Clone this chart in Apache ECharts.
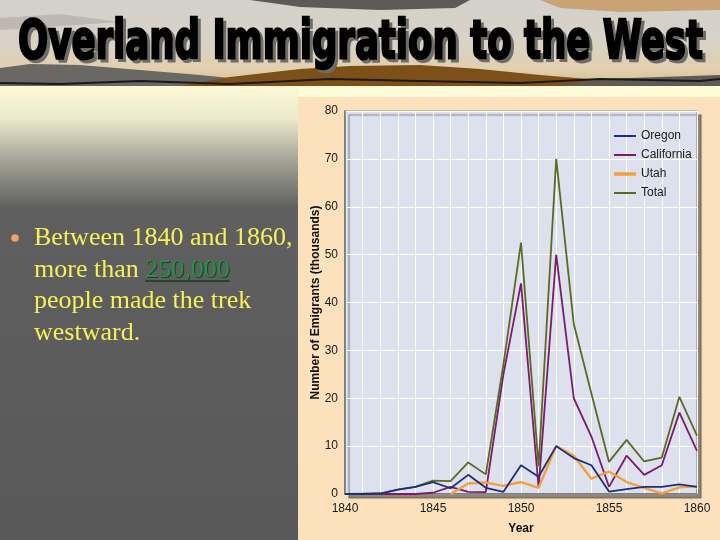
<!DOCTYPE html>
<html>
<head>
<meta charset="utf-8">
<script src="https://cdn.jsdelivr.net/npm/echarts@6/dist/echarts.min.js"></script>
<style>
html,body{margin:0;padding:0;background:#595959;}
#chart{width:720px;height:540px;}
</style>
</head>
<body>
<div id="chart"></div>
<script>
// ---- data ----
const years = [1840,1841,1842,1843,1844,1845,1846,1847,1848,1849,1850,1851,1852,1853,1854,1855,1856,1857,1858,1859,1860];
const oregon = [0,0,0.1,0.9,1.5,2.5,1.2,4.0,1.3,0.45,6.0,3.6,10.0,7.5,6.0,0.5,1.0,1.5,1.5,2.0,1.5];
const california = [0,0,0,0,0,0.26,1.5,0.45,0.4,25,44,1.3,50,20,12,1.5,8,4,6,17,9];
const utah = [null,null,null,null,null,null,0,2.2,2.4,1.7,2.5,1.3,10,8,3.2,4.7,2.5,1.3,0.15,1.4,1.6];
const total = [0,0.06,0.1,0.9,1.5,2.8,2.7,6.6,4.1,27,52.5,5.8,70,35.5,21,6.7,11.3,6.8,7.6,20.3,12.2];
const seriesNames = ['Oregon','California','Utah','Total'];
const yTicks = [0,10,20,30,40,50,60,70,80];
const xLabelYears = [1840,1845,1850,1855,1860];

const titleText = 'Overland Immigration to the West';
const bulletLines = ['Between 1840 and 1860,', 'more than ', '250,000', 'people made the trek', 'westward.'];

// ---- helpers ----
function pairs(vals){ return years.map((y,i)=>[y, vals[i]]); }
const mctx = document.createElement('canvas').getContext('2d');
function measure(font, txt){ mctx.font = font; return mctx.measureText(txt).width; }

const titleFont = 'bold 54px "DejaVu Sans"';
const titleScale = 685 / measure(titleFont, titleText);
const bodyFont = '26px "Liberation Serif"';
const lineStartX = 34;
const moreW = measure(bodyFont, bulletLines[1]);
const numW = measure(bodyFont, bulletLines[2]);

const chart = echarts.init(document.getElementById('chart'), null, {renderer:'canvas'});

const graphic = [
  // header background
  {type:'rect', z:-20, shape:{x:0,y:0,width:720,height:86},
   style:{fill:new echarts.graphic.LinearGradient(0,0,0,1,[
     {offset:0,color:'#d3d1cc'},{offset:0.5,color:'#d8d2c6'},{offset:0.8,color:'#e2cfae'},{offset:1,color:'#d8bf93'}])}},
  {type:'polygon', z:-19, shape:{points:[[250,0],[470,0],[455,8],[380,10],[300,7]]}, style:{fill:'#5c5a57'}},
  {type:'polygon', z:-19, shape:{points:[[540,0],[720,0],[720,10],[620,12],[560,8]]}, style:{fill:'#c9a373'}},
  {type:'polygon', z:-19, shape:{points:[[0,18],[60,14],[120,22],[60,26],[0,30]]}, style:{fill:'#bdb9b2'}},
  {type:'polygon', z:-18, shape:{points:[[0,86],[0,68],[30,64],[80,65],[140,70],[200,75],[250,80],[260,86]]}, style:{fill:'#6a6864'}},
  {type:'polygon', z:-18, shape:{points:[[180,86],[230,77],[300,69],[350,66],[420,65],[480,69],[540,75],[600,80],[640,86]]}, style:{fill:'#7d5019'}},
  {type:'polygon', z:-18, shape:{points:[[560,86],[600,79],[660,77],[720,75],[720,86]]}, style:{fill:'#5f5b55'}},
  {type:'polyline', z:-17, shape:{points:[[0,83],[60,84],[140,81],[230,84],[330,79],[420,81],[520,83],[600,79],[700,81],[720,79]]}, style:{stroke:'#1a1a1a', lineWidth:2, fill:null}},
  // pale strip below header
  {type:'rect', z:-20, shape:{x:0,y:86,width:720,height:14}, style:{fill:'#fdfbd8'}},
  // left panel gradient
  {type:'rect', z:-20, shape:{x:0,y:86,width:299,height:454},
   style:{fill:new echarts.graphic.LinearGradient(0,0,0,1,[
     {offset:0,color:'#fcf9d4'},{offset:0.07,color:'#eceacd'},{offset:0.17,color:'#a09f92'},{offset:0.27,color:'#5f5f5f'},{offset:1,color:'#595959'}])}},
  // peach chart panel
  {type:'rect', z:-20, shape:{x:298,y:97,width:422,height:443}, style:{fill:'#fce1bc'}},
  // title shadow + title
  {type:'text', z:5, x:21, y:20, scaleX:titleScale,
   style:{text:titleText, font:titleFont, fill:'#6e6c68', stroke:'#6e6c68', lineWidth:2.5, verticalAlign:'top', align:'left'}},
  {type:'text', z:6, x:18, y:17, scaleX:titleScale,
   style:{text:titleText, font:titleFont, fill:'#000', stroke:'#000', lineWidth:2.5, verticalAlign:'top', align:'left'}},
  // bullet
  {type:'circle', z:5, shape:{cx:15, cy:238, r:3.8}, style:{fill:'#f0a264'}},
  {type:'text', z:5, x:lineStartX, y:238, style:{text:bulletLines[0], font:bodyFont, fill:'#f6f05a', verticalAlign:'middle', align:'left'}},
  {type:'text', z:5, x:lineStartX, y:270, style:{text:bulletLines[1], font:bodyFont, fill:'#f6f05a', verticalAlign:'middle', align:'left'}},
  {type:'text', z:5, x:lineStartX+moreW+1, y:271, style:{text:bulletLines[2], font:bodyFont, fill:'#1d3d22', verticalAlign:'middle', align:'left'}},
  {type:'text', z:6, x:lineStartX+moreW, y:270, style:{text:bulletLines[2], font:bodyFont, fill:'#27914a', verticalAlign:'middle', align:'left'}},
  {type:'line', z:5, shape:{x1:lineStartX+moreW, y1:281, x2:lineStartX+moreW+numW, y2:281}, style:{stroke:'#1a3a1e', lineWidth:1.5}},
  {type:'text', z:5, x:lineStartX, y:301, style:{text:bulletLines[3], font:bodyFont, fill:'#f6f05a', verticalAlign:'middle', align:'left'}},
  {type:'text', z:5, x:lineStartX, y:333, style:{text:bulletLines[4], font:bodyFont, fill:'#f6f05a', verticalAlign:'middle', align:'left'}}
];

const colors = {Oregon:'#1b2f7c', California:'#7c1a6c', Utah:'#f3a03e', Total:'#5c6a20'};
const dataMap = {Oregon:oregon, California:california, Utah:utah, Total:total};
const thinIcon = 'path://M0,0 L22,0 L22,2 L0,2 Z';
const thickIcon = 'path://M0,0 L22,0 L22,3.6 L0,3.6 Z';

const option = {
  animation:false,
  backgroundColor:'#595959',
  textStyle:{fontFamily:'"Liberation Sans", Arial, sans-serif'},
  graphic: graphic,
  grid:{left:345, right:23, top:111, bottom:46, show:true, backgroundColor:'#dde1ee',
        borderColor:'#8c8c8c', borderWidth:1.2,
        shadowColor:'rgba(60,60,60,0.55)', shadowOffsetX:4, shadowOffsetY:4, shadowBlur:1},
  legend:{orient:'vertical', left:609, top:125, itemWidth:22, itemHeight:12, itemGap:7,
          itemStyle:{borderWidth:0},
          textStyle:{fontSize:12, color:'#1a1a1a'},
          data:seriesNames.map(n=>({name:n, icon: n==='Utah' ? thickIcon : thinIcon}))},
  xAxis:{type:'value', min:1840, max:1860, interval:1,
         name:'Year', nameLocation:'middle', nameGap:29,
         nameTextStyle:{fontWeight:'bold', fontSize:12, color:'#111'},
         axisLine:{lineStyle:{color:'#6a6a6a', width:1.5}},
         axisTick:{show:false},
         axisLabel:{margin:9, fontSize:12, color:'#1a1a1a',
                    formatter:v=> xLabelYears.indexOf(v)>=0 ? String(v) : ''},
         splitLine:{lineStyle:{color:'#ffffff', width:1}}},
  yAxis:{type:'value', min:0, max:80, interval:10,
         name:'Number of Emigrants (thousands)', nameLocation:'middle', nameGap:23,
         nameMoveOverlap:false,
         nameTextStyle:{fontWeight:'bold', fontSize:12, color:'#111'},
         axisLine:{show:true, lineStyle:{color:'#6a6a6a', width:1.5}},
         axisTick:{show:false},
         axisLabel:{margin:7, fontSize:12, color:'#1a1a1a',
                    formatter:v=> yTicks.indexOf(v)>=0 ? String(v) : ''},
         splitLine:{lineStyle:{color:'#ffffff', width:1}}},
  series: seriesNames.map(n=>({
    name:n, type:'line', symbol:'none', data:pairs(dataMap[n]), connectNulls:false,
    color:colors[n],
    lineStyle:{color:colors[n], width: n==='Utah' ? 2.4 : 1.8},
    z: n==='Utah' ? 3 : (n==='Oregon' ? 4 : 2)
  }))
};
chart.setOption(option);
</script>
</body>
</html>
